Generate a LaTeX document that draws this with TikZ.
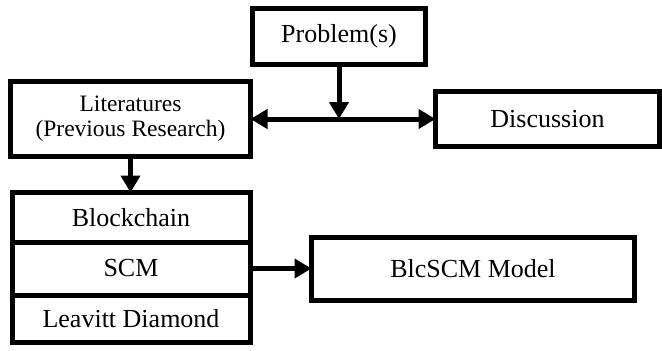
\documentclass[tikz,border=0pt]{standalone}
\usepackage{fontspec}
\setmainfont{Liberation Serif}
\usetikzlibrary{arrows.meta}

\begin{document}
\begin{tikzpicture}[x=1pt, y=1pt,
    box/.style={draw, line width=5pt, inner sep=0pt, outer sep=0pt,
        align=center, font=\fontsize{26}{30}\selectfont},
    arr/.style={line width=5pt, -{Triangle[length=17pt, width=19pt]}},
    dblarr/.style={line width=5pt, {Triangle[length=17pt, width=19pt]}-{Triangle[length=17pt, width=19pt]}}]
    \useasboundingbox (0,0) rectangle (662,-351);
    % top row
    \node[box, minimum width=173pt, minimum height=56pt] (prob) at (339,-36.5) {Problem(s)};
    \node[box, minimum width=240pt, minimum height=75pt, font=\fontsize{23.5}{25}\selectfont] (lit) at (130.5,-119) {Literatures\\(Previous Research)};
    \node[box, minimum width=224pt, minimum height=55pt] (disc) at (547.5,-119) {Discussion};
    % stacked boxes
    \node[box, minimum width=238pt, minimum height=49.5pt, anchor=north] (blk) at (131,-192.5) {Blockchain};
    \node[box, minimum width=238pt, minimum height=53pt, anchor=north] (scm) at (blk.south) {SCM};
    \node[box, minimum width=238pt, minimum height=47.5pt, anchor=north] (leav) at (scm.south) {Leavitt Diamond};
    \node[box, minimum width=323pt, minimum height=63pt] (blc) at (473,-269) {BlcSCM Model};
    % arrows
    \coordinate (mid) at (prob.south |- lit.east);
    \draw[dblarr] (lit.east) -- (disc.west);
    \draw[arr] (prob.south) -- (mid);
    \draw[arr] (lit.south) -- (lit.south |- blk.north);
    \draw[arr] (scm.east) -- (scm.east -| blc.west);
\end{tikzpicture}
\end{document}
